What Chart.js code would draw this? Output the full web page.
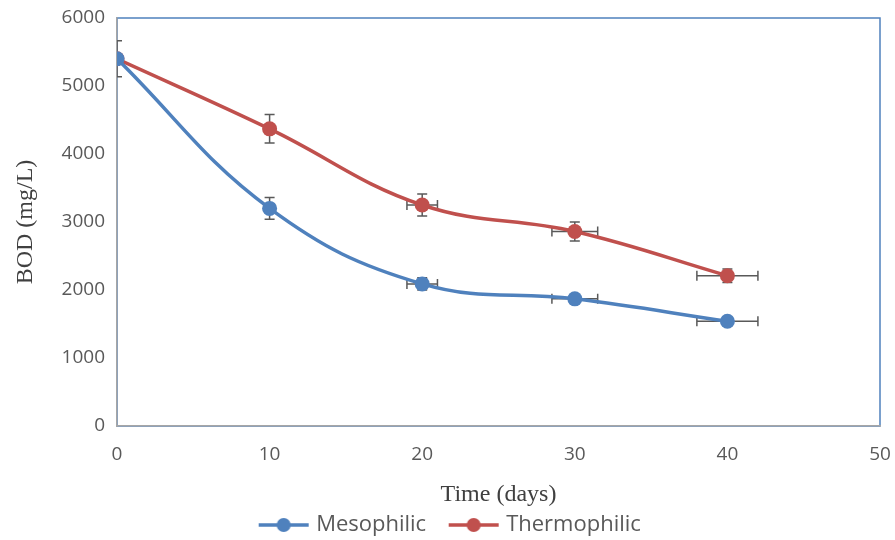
<!DOCTYPE html>
<html>
<head>
<meta charset="utf-8">
<script src="https://cdn.jsdelivr.net/npm/chart.js@4"></script>
<style>
  html, body { margin: 0; padding: 0; background: #fff; }
  #wrap { width: 895px; height: 540px; }
</style>
</head>
<body>
<div id="wrap"><canvas id="bodChart" width="895" height="540"></canvas></div>
<script>
const days = [0, 10, 20, 30, 40];
const mesophilic = [5400, 3200, 2090, 1870, 1540];
const thermophilic = [5400, 4370, 3250, 2860, 2210];
const mesoYErr = [0, 160, 90, 60, 50];
const mesoXErr = [0, 0, 1, 1.5, 2];
const thermoYErr = [265, 210, 160, 140, 100];
const thermoXErr = [0, 0, 1, 1.5, 2];
const yTicks = [0, 1000, 2000, 3000, 4000, 5000, 6000];
const xTicks = [0, 10, 20, 30, 40, 50];

const BLUE = "#4F81BD";
const RED = "#C0504D";
const SANS = "'Open Sans', 'Liberation Sans', sans-serif";
const SERIF = "'Liberation Serif', 'DejaVu Serif', serif";

// line + dot swatch for the legend, blank on the left so items sit apart
function legendSwatch(color) {
    const c = document.createElement("canvas");
    c.width = 77; c.height = 18;
    const g = c.getContext("2d");
    g.strokeStyle = color;
    g.lineWidth = 3.5;
    g.beginPath(); g.moveTo(25, 9); g.lineTo(75, 9); g.stroke();
    g.fillStyle = color;
    g.beginPath(); g.arc(50, 9, 7, 0, Math.PI * 2); g.fill();
    return c;
}

const errorBars = {
    id: "errorBars",
    beforeDatasetsDraw(chart) {
        const {ctx, chartArea, scales: {x, y}} = chart;
        ctx.save();
        ctx.beginPath();
        ctx.rect(chartArea.left, chartArea.top, chartArea.width, chartArea.height);
        ctx.clip();
        ctx.strokeStyle = "#595959";
        ctx.lineWidth = 1.5;
        chart.data.datasets.forEach(ds => {
            ds.data.forEach((p, i) => {
                const px = x.getPixelForValue(p.x);
                const py = y.getPixelForValue(p.y);
                const cap = 5;
                if (ds.yErr[i]) {
                    const y1 = y.getPixelForValue(p.y + ds.yErr[i]);
                    const y2 = y.getPixelForValue(p.y - ds.yErr[i]);
                    ctx.beginPath();
                    ctx.moveTo(px, y1); ctx.lineTo(px, y2);
                    ctx.moveTo(px - cap, y1); ctx.lineTo(px + cap, y1);
                    ctx.moveTo(px - cap, y2); ctx.lineTo(px + cap, y2);
                    ctx.stroke();
                }
                if (ds.xErr[i]) {
                    const x1 = x.getPixelForValue(p.x - ds.xErr[i]);
                    const x2 = x.getPixelForValue(p.x + ds.xErr[i]);
                    ctx.beginPath();
                    ctx.moveTo(x1, py); ctx.lineTo(x2, py);
                    ctx.moveTo(x1, py - cap); ctx.lineTo(x1, py + cap);
                    ctx.moveTo(x2, py - cap); ctx.lineTo(x2, py + cap);
                    ctx.stroke();
                }
            });
        });
        ctx.restore();
    }
};

const plotBorder = {
    id: "plotBorder",
    beforeDraw(chart) {
        const {ctx, chartArea} = chart;
        ctx.save();
        ctx.strokeStyle = BLUE;
        ctx.lineWidth = 1.5;
        ctx.strokeRect(chartArea.left, chartArea.top, chartArea.width, chartArea.height);
        ctx.restore();
    }
};

function makeSeries(label, values, color, yErr, xErr) {
    return {
        label: label,
        data: days.map((d, i) => ({x: d, y: values[i]})),
        borderColor: color,
        backgroundColor: color,
        borderWidth: 3.5,
        pointRadius: 7.5,
        pointHoverRadius: 7.5,
        pointBorderWidth: 0,
        tension: 0.4,
        yErr: yErr,
        xErr: xErr,
        swatch: legendSwatch(color)
    };
}

new Chart(document.getElementById("bodChart"), {
    type: "line",
    data: {
        datasets: [
            makeSeries("Mesophilic", mesophilic, BLUE, mesoYErr, mesoXErr),
            makeSeries("Thermophilic", thermophilic, RED, thermoYErr, thermoXErr)
        ]
    },
    options: {
        responsive: false,
        animation: false,
        devicePixelRatio: 1,
        layout: { padding: { top: 18, right: 15, bottom: -6, left: 0 } },
        scales: {
            x: {
                type: "linear",
                min: 0, max: 50,
                afterBuildTicks: s => { s.ticks = xTicks.map(v => ({value: v})); },
                afterFit: s => { s.height = 85; s.paddingLeft = 0; s.paddingRight = 0; },
                grid: { display: false, drawTicks: false },
                border: { display: true, color: "#A6A6A6", width: 1.5 },
                ticks: { padding: 17, color: "#595959", font: { family: SANS, size: 19 },
                         callback: v => String(v) },
                title: {
                    display: true, text: "Time (days)", color: "#404040",
                    font: { family: SERIF, size: 24 }, padding: { top: 0, bottom: 2 }
                }
            },
            y: {
                min: 0, max: 6000,
                afterBuildTicks: s => { s.ticks = yTicks.map(v => ({value: v})); },
                afterFit: s => { s.width = 117; s.paddingTop = 0; s.paddingBottom = 0; },
                grid: { display: false, drawTicks: false },
                border: { display: true, color: "#A6A6A6", width: 1.5 },
                ticks: { padding: 12, color: "#595959", font: { family: SANS, size: 19 },
                         callback: v => String(v) },
                title: {
                    display: true, text: "BOD (mg/L)", color: "#404040",
                    font: { family: SERIF, size: 24 }, padding: { top: 11, bottom: 0 }
                }
            }
        },
        plugins: {
            tooltip: { enabled: false },
            legend: {
                position: "bottom",
                labels: {
                    usePointStyle: true,
                    pointStyleWidth: 66,
                    padding: 3,
                    color: "#595959",
                    font: { family: SANS, size: 22 },
                    generateLabels: chart => chart.data.datasets.map((ds, i) => ({
                        text: ds.label,
                        pointStyle: ds.swatch,
                        fillStyle: ds.backgroundColor,
                        strokeStyle: ds.borderColor,
                        lineWidth: 0,
                        fontColor: "#595959",
                        datasetIndex: i
                    }))
                }
            }
        }
    },
    plugins: [plotBorder, errorBars]
});
</script>
</body>
</html>
